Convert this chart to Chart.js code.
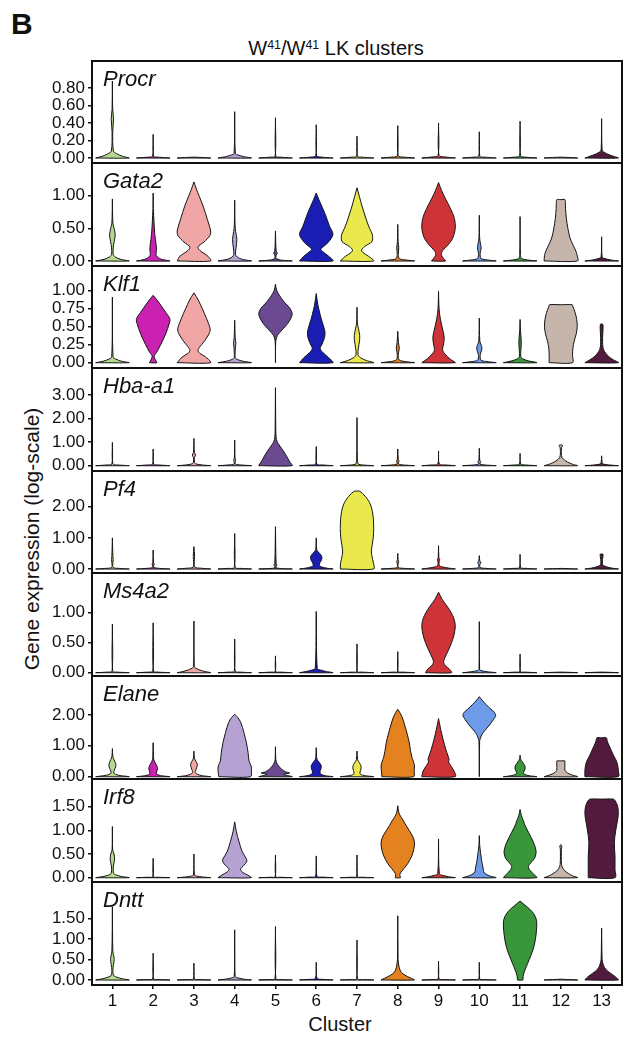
<!DOCTYPE html>
<html>
<head>
<meta charset="utf-8">
<title>W41/W41 LK clusters – violin plots</title>
<script src="https://cdn.jsdelivr.net/npm/chart.js@4.4.1/dist/chart.umd.min.js"></script>
<style>
  html, body { margin: 0; padding: 0; background: #fff; }
  #fig { position: relative; width: 627px; height: 1037px; overflow: hidden;
         font-family: "Liberation Sans", Arial, Helvetica, sans-serif; color: #111; }
  #fig canvas { position: absolute; left: 0; }
  .panel-letter { position: absolute; left: 11px; top: 9px; font-size: 30px; font-weight: bold; line-height: 1; }
  .fig-title { position: absolute; left: 336px; top: 38px; transform: translateX(-50%);
               font-size: 20px; line-height: 1; white-space: nowrap; }
  .fig-title .sup { font-size: 0.62em; position: relative; top: -0.5em; }
  .y-title { position: absolute; left: 31px; top: 539px; transform: translate(-50%, -50%) rotate(-90deg);
             font-size: 21px; line-height: 1; white-space: nowrap; }
  .x-title { position: absolute; left: 340px; top: 1024px; transform: translate(-50%, -50%);
             font-size: 20px; line-height: 1; white-space: nowrap; }
</style>
</head>
<body>
<div id="fig">
  <div class="panel-letter">B</div>
  <div class="fig-title">W<span class="sup">41</span>/W<span class="sup">41</span> LK clusters</div>
  <div class="y-title">Gene expression (log-scale)</div>
  <div class="x-title">Cluster</div>
</div>
<script>
// ---- data ---------------------------------------------------------------
const clusters = ['1','2','3','4','5','6','7','8','9','10','11','12','13'];
const clusterColors = ['#b7d98f','#cb21b1','#f0a6a4','#b5a2d3','#6b4a92','#1a1db3','#e9e84c',
                       '#e3821f','#cd3337','#6e9be9','#3a963b','#c6b5ab','#521b3d'];
const genes = ['Procr','Gata2','Klf1','Hba-a1','Pf4','Ms4a2','Elane','Irf8','Dntt'];
const geneTicks = [[0,0.2,0.4,0.6,0.8],[0,0.5,1],[0,0.25,0.5,0.75,1],[0,1,2,3],[0,1,2],
                   [0,0.5,1],[0,1,2],[0,0.5,1,1.5],[0,0.5,1,1.5]];
const yMin = [-0.057,-0.077,-0.074,-0.225,-0.128,-0.055,-0.075,-0.091,-0.122];
const yMax = [1.109,1.50,1.343,4.145,3.146,1.66,3.26,2.085,2.383];

// Violin outlines, one per cluster: [expression, relative half-width] pairs
// listed from the bottom of the violin up to its maximum.
const procr = [
  [[0,1],[0.02,0.6],[0.05,0.25],[0.08,0.06],[0.3,0.02],[0.45,0.07],[0.55,0.02],[0.88,0]],
  [[0,1],[0.01,0.3],[0.02,0.03],[0.27,0]],
  [[0,1],[0.006,0.5],[0.01,0]],
  [[0,1],[0.015,0.55],[0.035,0.2],[0.05,0.04],[0.53,0]],
  [[0,1],[0.01,0.3],[0.02,0.02],[0.46,0]],
  [[0,1],[0.01,0.35],[0.025,0.03],[0.38,0]],
  [[0,1],[0.01,0.3],[0.02,0.02],[0.25,0]],
  [[0,1],[0.01,0.4],[0.025,0.03],[0.37,0]],
  [[0,1],[0.012,0.4],[0.03,0.03],[0.4,0]],
  [[0,1],[0.01,0.35],[0.02,0.03],[0.3,0]],
  [[0,1],[0.01,0.35],[0.025,0.03],[0.42,0]],
  [[0,1],[0.006,0.5],[0.01,0]],
  [[0,1],[0.02,0.7],[0.045,0.35],[0.07,0.12],[0.09,0.03],[0.45,0]]
];
const gata2 = [
  [[0,1],[0.025,0.5],[0.06,0.18],[0.1,0.05],[0.2,0.05],[0.3,0.11],[0.4,0.17],[0.5,0.1],[0.58,0.03],[0.95,0]],
  [[0,1],[0.025,0.5],[0.06,0.25],[0.1,0.17],[0.18,0.2],[0.26,0.17],[0.4,0.1],[0.55,0.06],[0.7,0.03],[0.8,0.01],[1.04,0]],
  [[0,1],[0.07,0.85],[0.16,0.36],[0.215,0.24],[0.29,0.6],[0.39,0.96],[0.46,1],[0.64,0.8],[0.84,0.55],[0.99,0.32],[1.1,0.15],[1.21,0]],
  [[0,1],[0.025,0.45],[0.06,0.15],[0.1,0.05],[0.2,0.08],[0.33,0.13],[0.45,0.06],[0.55,0.02],[0.93,0]],
  [[0,1],[0.015,0.3],[0.04,0.04],[0.09,0.04],[0.12,0.11],[0.15,0.04],[0.46,0]],
  [[0,1],[0.07,0.76],[0.15,0.36],[0.185,0.28],[0.28,0.7],[0.405,1],[0.53,0.8],[0.74,0.5],[0.89,0.24],[0.99,0.08],[1.04,0]],
  [[0,1],[0.07,0.7],[0.13,0.35],[0.17,0.27],[0.22,0.45],[0.3,0.9],[0.4,0.92],[0.5,0.75],[0.6,0.6],[0.84,0.3],[0.99,0.14],[1.12,0]],
  [[0,1],[0.015,0.5],[0.035,0.1],[0.1,0.03],[0.2,0.06],[0.3,0.02],[0.56,0]],
  [[0,0.42],[0.04,0.3],[0.1,0.17],[0.16,0.25],[0.24,0.55],[0.35,0.85],[0.5,1],[0.65,0.95],[0.8,0.72],[0.95,0.42],[1.08,0.18],[1.2,0]],
  [[0,1],[0.015,0.5],[0.04,0.1],[0.12,0.05],[0.2,0.11],[0.28,0.06],[0.35,0.02],[0.7,0]],
  [[0,1],[0.015,0.45],[0.04,0.08],[0.1,0.02],[0.68,0]],
  [[0,1],[0.08,0.98],[0.15,0.9],[0.25,0.72],[0.35,0.55],[0.5,0.42],[0.65,0.33],[0.8,0.28],[0.9,0.27],[0.94,0.24],[0.94,0]],
  [[0,1],[0.015,0.55],[0.04,0.15],[0.06,0.03],[0.37,0]]
];
const klf1 = [
  [[0,1],[0.02,0.55],[0.05,0.2],[0.08,0.04],[0.91,0]],
  [[0,0.22],[0.04,0.13],[0.09,0.06],[0.14,0.2],[0.25,0.45],[0.4,0.75],[0.55,0.97],[0.61,1],[0.7,0.75],[0.8,0.45],[0.88,0.2],[0.935,0]],
  [[0,1],[0.08,0.7],[0.13,0.35],[0.17,0.24],[0.22,0.35],[0.29,0.6],[0.4,0.9],[0.47,0.97],[0.61,0.76],[0.75,0.5],[0.87,0.26],[0.97,0]],
  [[0,1],[0.02,0.5],[0.045,0.15],[0.07,0.03],[0.2,0.04],[0.27,0.07],[0.35,0.03],[0.59,0]],
  [[0,0],[0.3,0.02],[0.38,0.12],[0.45,0.38],[0.55,0.75],[0.67,1],[0.75,0.88],[0.85,0.5],[0.93,0.25],[1.0,0.08],[1.09,0]],
  [[0,1],[0.065,0.76],[0.14,0.4],[0.195,0.24],[0.26,0.35],[0.35,0.5],[0.43,0.52],[0.52,0.42],[0.61,0.3],[0.72,0.18],[0.8,0.1],[0.96,0]],
  [[0,1],[0.03,0.55],[0.07,0.2],[0.11,0.06],[0.2,0.08],[0.3,0.15],[0.38,0.16],[0.48,0.08],[0.55,0.02],[0.77,0]],
  [[0,1],[0.015,0.45],[0.04,0.08],[0.12,0.03],[0.2,0.09],[0.28,0.04],[0.435,0]],
  [[0,1],[0.04,0.75],[0.08,0.55],[0.13,0.35],[0.18,0.24],[0.26,0.3],[0.35,0.34],[0.45,0.26],[0.55,0.16],[0.68,0.06],[0.8,0.02],[0.99,0]],
  [[0,1],[0.015,0.45],[0.035,0.1],[0.1,0.05],[0.16,0.12],[0.2,0.16],[0.25,0.1],[0.3,0.03],[0.62,0]],
  [[0,1],[0.025,0.5],[0.055,0.15],[0.09,0.04],[0.25,0.07],[0.35,0.06],[0.45,0.02],[0.6,0]],
  [[0,0.7],[0.1,0.7],[0.2,0.72],[0.3,0.8],[0.4,0.92],[0.5,0.98],[0.6,0.95],[0.7,0.85],[0.78,0.72],[0.805,0.68],[0.805,0]],
  [[0,1],[0.04,0.7],[0.08,0.45],[0.13,0.25],[0.18,0.12],[0.25,0.06],[0.35,0.06],[0.45,0.08],[0.53,0.08],[0.54,0]]
];
const hbaA1 = [
  [[0,1],[0.03,0.35],[0.07,0.03],[0.99,0]],
  [[0,1],[0.03,0.35],[0.07,0.03],[0.71,0]],
  [[0,1],[0.03,0.5],[0.08,0.1],[0.15,0.03],[0.35,0.03],[0.45,0.1],[0.55,0.03],[1.16,0]],
  [[0,1],[0.03,0.4],[0.07,0.04],[0.2,0.04],[0.26,0.06],[0.33,0.02],[1.09,0]],
  [[0,1],[0.15,0.87],[0.31,0.74],[0.52,0.57],[0.74,0.36],[0.88,0.22],[1.02,0.1],[1.2,0.04],[1.5,0.02],[3.31,0]],
  [[0,1],[0.03,0.4],[0.07,0.03],[0.81,0]],
  [[0,1],[0.03,0.35],[0.07,0.05],[0.12,0.06],[0.2,0.02],[2.04,0]],
  [[0,1],[0.03,0.35],[0.07,0.04],[0.15,0.05],[0.2,0.08],[0.26,0.03],[0.71,0]],
  [[0,1],[0.03,0.45],[0.07,0.05],[0.62,0]],
  [[0,1],[0.03,0.35],[0.07,0.04],[0.12,0.05],[0.17,0.09],[0.22,0.03],[0.74,0]],
  [[0,1],[0.03,0.35],[0.07,0.04],[0.52,0]],
  [[0,1],[0.05,0.75],[0.12,0.5],[0.2,0.3],[0.28,0.15],[0.36,0.06],[0.5,0.03],[0.7,0.03],[0.78,0.05],[0.84,0.1],[0.88,0.08],[0.88,0]],
  [[0,1],[0.03,0.45],[0.07,0.1],[0.12,0.03],[0.42,0]]
];
const pf4 = [
  [[0,1],[0.02,0.4],[0.05,0.04],[0.2,0.03],[0.3,0.05],[0.4,0.03],[1.0,0]],
  [[0,1],[0.02,0.4],[0.05,0.04],[0.12,0.04],[0.16,0.07],[0.2,0.02],[0.61,0]],
  [[0,1],[0.025,0.45],[0.06,0.05],[0.3,0.03],[0.4,0.04],[0.72,0]],
  [[0,1],[0.02,0.4],[0.05,0.03],[1.14,0]],
  [[0,1],[0.015,0.35],[0.04,0.04],[0.09,0.04],[0.13,0.1],[0.17,0.04],[1.36,0]],
  [[0,1],[0.03,0.6],[0.07,0.3],[0.12,0.18],[0.2,0.22],[0.3,0.32],[0.38,0.34],[0.45,0.28],[0.55,0.12],[0.62,0.03],[1.0,0]],
  [[0,1],[0.2,0.98],[0.4,0.9],[0.55,0.86],[0.75,0.9],[1.0,0.97],[1.3,1],[1.6,0.98],[1.85,0.92],[2.05,0.82],[2.2,0.68],[2.33,0.5],[2.43,0.32],[2.5,0.15],[2.5,0]],
  [[0,1],[0.02,0.4],[0.05,0.03],[0.17,0.03],[0.24,0.06],[0.3,0.02],[0.5,0]],
  [[0,1],[0.03,0.6],[0.07,0.2],[0.12,0.04],[0.25,0.04],[0.3,0.07],[0.36,0.02],[0.75,0]],
  [[0,1],[0.02,0.4],[0.05,0.04],[0.15,0.04],[0.21,0.1],[0.26,0.03],[0.43,0]],
  [[0,1],[0.02,0.4],[0.05,0.04],[0.47,0]],
  [[0,1],[0.01,0.5],[0.02,0]],
  [[0,1],[0.03,0.6],[0.07,0.3],[0.11,0.12],[0.15,0.05],[0.3,0.05],[0.4,0.08],[0.48,0.08],[0.48,0]]
];
const ms4a2 = [
  [[0,1],[0.01,0.3],[0.025,0.02],[0.81,0]],
  [[0,1],[0.01,0.3],[0.025,0.02],[0.83,0]],
  [[0,1],[0.02,0.65],[0.05,0.3],[0.08,0.08],[0.1,0.02],[0.86,0]],
  [[0,1],[0.01,0.35],[0.025,0.03],[0.56,0]],
  [[0,1],[0.01,0.3],[0.02,0.02],[0.28,0]],
  [[0,1],[0.02,0.6],[0.045,0.25],[0.07,0.06],[1.02,0]],
  [[0,1],[0.01,0.3],[0.02,0.02],[0.48,0]],
  [[0,1],[0.01,0.3],[0.02,0.02],[0.35,0]],
  [[0,0.78],[0.06,0.65],[0.12,0.4],[0.18,0.3],[0.25,0.38],[0.38,0.6],[0.5,0.78],[0.62,0.92],[0.76,1],[0.85,0.97],[0.95,0.85],[1.05,0.65],[1.13,0.45],[1.22,0.22],[1.34,0]],
  [[0,1],[0.015,0.5],[0.035,0.1],[0.05,0.02],[0.85,0]],
  [[0,1],[0.01,0.3],[0.02,0.02],[0.31,0]],
  [[0,1],[0.006,0.5],[0.01,0]],
  [[0,1],[0.006,0.5],[0.01,0]]
];
const elane = [
  [[0,1],[0.03,0.55],[0.07,0.2],[0.12,0.08],[0.22,0.12],[0.32,0.2],[0.42,0.2],[0.55,0.1],[0.65,0.03],[0.91,0]],
  [[0,1],[0.03,0.5],[0.08,0.22],[0.15,0.2],[0.25,0.26],[0.35,0.22],[0.45,0.12],[0.55,0.04],[0.65,0.02],[1.1,0]],
  [[0,1],[0.03,0.5],[0.08,0.2],[0.13,0.08],[0.2,0.1],[0.3,0.17],[0.4,0.2],[0.5,0.12],[0.6,0.03],[0.83,0]],
  [[0,0.95],[0.2,1],[0.35,0.98],[0.5,0.86],[0.78,0.8],[1.1,0.7],[1.43,0.55],[1.75,0.37],[1.92,0.18],[2.02,0]],
  [[0,1],[0.04,0.7],[0.08,0.5],[0.12,0.85],[0.16,0.6],[0.25,0.35],[0.35,0.18],[0.45,0.07],[0.55,0.02],[0.97,0]],
  [[0,1],[0.03,0.55],[0.08,0.28],[0.15,0.22],[0.25,0.28],[0.35,0.3],[0.45,0.2],[0.55,0.06],[0.65,0.02],[0.94,0]],
  [[0,1],[0.03,0.5],[0.08,0.2],[0.15,0.18],[0.25,0.24],[0.35,0.24],[0.45,0.14],[0.55,0.04],[0.83,0]],
  [[0,0.95],[0.2,0.98],[0.35,1],[0.5,0.93],[0.62,0.85],[0.85,0.76],[1.1,0.69],[1.37,0.57],[1.64,0.43],[1.9,0.28],[2.08,0.12],[2.18,0]],
  [[0,1],[0.18,0.93],[0.37,0.71],[0.48,0.6],[0.56,0.63],[0.7,0.55],[0.89,0.43],[1.21,0.27],[1.53,0.13],[1.75,0.05],[1.88,0]],
  [[0,0],[1.15,0.02],[1.25,0.07],[1.37,0.16],[1.5,0.34],[1.64,0.56],[1.86,0.86],[1.99,0.98],[2.1,0.88],[2.18,0.7],[2.34,0.4],[2.48,0.16],[2.59,0]],
  [[0,1],[0.03,0.55],[0.08,0.25],[0.13,0.2],[0.22,0.28],[0.33,0.3],[0.43,0.2],[0.52,0.08],[0.6,0.02],[0.7,0]],
  [[0,1],[0.06,0.65],[0.12,0.4],[0.2,0.25],[0.3,0.24],[0.45,0.24],[0.51,0.24],[0.51,0]],
  [[0,1],[0.2,1],[0.4,0.95],[0.55,0.85],[0.7,0.7],[0.85,0.58],[1.0,0.45],[1.15,0.34],[1.26,0.28],[1.26,0]]
];
const irf8 = [
  [[0,1],[0.025,0.55],[0.06,0.2],[0.1,0.06],[0.25,0.06],[0.38,0.13],[0.5,0.1],[0.58,0.02],[1.08,0]],
  [[0,1],[0.01,0.3],[0.02,0.02],[0.41,0]],
  [[0,1],[0.015,0.5],[0.035,0.15],[0.055,0.03],[0.5,0]],
  [[0,1],[0.06,0.75],[0.12,0.45],[0.18,0.34],[0.26,0.55],[0.34,0.72],[0.4,0.7],[0.55,0.45],[0.76,0.26],[0.97,0.1],[1.18,0]],
  [[0,1],[0.01,0.3],[0.02,0.02],[0.48,0]],
  [[0,1],[0.012,0.4],[0.03,0.04],[0.46,0]],
  [[0,1],[0.01,0.35],[0.025,0.03],[0.48,0]],
  [[0,0.16],[0.06,0.12],[0.12,0.2],[0.2,0.38],[0.3,0.6],[0.46,0.84],[0.6,0.96],[0.75,1],[0.88,0.88],[1.0,0.68],[1.1,0.5],[1.2,0.34],[1.3,0.16],[1.38,0.06],[1.52,0]],
  [[0,1],[0.02,0.6],[0.05,0.25],[0.08,0.05],[0.82,0]],
  [[0,1],[0.04,0.6],[0.1,0.3],[0.16,0.24],[0.22,0.22],[0.32,0.16],[0.46,0.1],[0.6,0.05],[0.7,0.02],[0.89,0]],
  [[0,1],[0.08,0.8],[0.16,0.58],[0.24,0.5],[0.32,0.66],[0.42,0.88],[0.54,0.96],[0.65,0.9],[0.75,0.8],[0.96,0.5],[1.1,0.3],[1.2,0.2],[1.31,0.08],[1.44,0]],
  [[0,1],[0.04,0.7],[0.09,0.45],[0.14,0.25],[0.2,0.12],[0.28,0.04],[0.6,0.03],[0.67,0.06],[0.7,0]],
  [[0,0.8],[0.18,0.8],[0.46,0.8],[0.75,0.76],[1.03,0.86],[1.25,0.97],[1.38,1],[1.52,0.95],[1.62,0.82],[1.66,0.7],[1.66,0]]
];
const dntt = [
  [[0,1],[0.03,0.6],[0.07,0.25],[0.12,0.06],[0.3,0.04],[0.45,0.1],[0.55,0.1],[0.68,0.03],[1.78,0]],
  [[0,1],[0.01,0.35],[0.025,0.03],[0.65,0]],
  [[0,1],[0.01,0.35],[0.025,0.03],[0.41,0]],
  [[0,1],[0.02,0.55],[0.05,0.2],[0.08,0.03],[1.22,0]],
  [[0,1],[0.01,0.35],[0.025,0.03],[1.3,0]],
  [[0,1],[0.015,0.45],[0.04,0.05],[0.43,0]],
  [[0,1],[0.01,0.35],[0.025,0.03],[0.97,0]],
  [[0,1],[0.04,0.8],[0.08,0.6],[0.12,0.42],[0.18,0.22],[0.26,0.12],[0.36,0.06],[0.5,0.02],[1.56,0]],
  [[0,1],[0.01,0.35],[0.025,0.03],[0.46,0]],
  [[0,1],[0.01,0.35],[0.025,0.03],[0.43,0]],
  [[0,0.16],[0.1,0.18],[0.25,0.3],[0.4,0.45],[0.6,0.65],[0.8,0.82],[1.0,0.92],[1.2,0.98],[1.38,1],[1.5,0.95],[1.62,0.8],[1.72,0.58],[1.8,0.35],[1.87,0.15],[1.92,0]],
  [[0,1],[0.01,0.5],[0.02,0]],
  [[0,1],[0.05,0.9],[0.1,0.75],[0.16,0.55],[0.22,0.35],[0.3,0.18],[0.4,0.08],[0.5,0.03],[1.26,0]]
];
const geneProfiles = [procr, gata2, klf1, hbaA1, pf4, ms4a2, elane, irf8, dntt];

// ---- layout -------------------------------------------------------------
const FIG_W = 627, FIG_H = 1037;
const PANEL_EDGES = [61, 163, 266, 368, 471, 573, 676, 779, 882, 985];
const PLOT_LEFT = 92, PLOT_RIGHT = 622, EDGE_PAD = 3;
const HALF_WIDTH = 0.41;            // widest violin half-width, in cluster units
const FONT = "'Liberation Sans', Arial, Helvetica, sans-serif";

Chart.defaults.font.family = FONT;
Chart.defaults.color = '#111';

// closed outline: up the left side, down the right side, back to start
function violinOutline(profile, center) {
  const left = profile.map(([v, w]) => ({ x: center - w * HALF_WIDTH, y: v }));
  const right = profile.slice().reverse().map(([v, w]) => ({ x: center + w * HALF_WIDTH, y: v }));
  return left.concat(right, [left[0]]);
}

// frame around each panel plus the gene name in its top-left corner
const panelFrame = {
  id: 'panelFrame',
  afterDatasetsDraw(chart, args, opts) {
    const { ctx, chartArea: a } = chart;
    ctx.save();
    ctx.strokeStyle = '#111';
    ctx.lineWidth = 2;
    ctx.strokeRect(a.left, a.top, a.right - a.left, a.bottom - a.top);
    ctx.font = 'italic 22px ' + FONT;
    ctx.fillStyle = '#111';
    ctx.textAlign = 'left';
    ctx.textBaseline = 'alphabetic';
    ctx.fillText(opts.gene, a.left + 11, a.top + 25);
    ctx.restore();
  }
};

const fig = document.getElementById('fig');

genes.forEach((gene, g) => {
  const isLast = g === genes.length - 1;
  const top = PANEL_EDGES[g] - EDGE_PAD;
  const bottom = isLast ? FIG_H : PANEL_EDGES[g + 1] + EDGE_PAD;
  const canvas = document.createElement('canvas');
  canvas.width = FIG_W;
  canvas.height = bottom - top;
  canvas.style.top = top + 'px';
  canvas.style.width = FIG_W + 'px';
  canvas.style.height = (bottom - top) + 'px';
  fig.appendChild(canvas);

  const datasets = geneProfiles[g].map((profile, c) => ({
    label: gene + ' cluster ' + clusters[c],
    data: violinOutline(profile, c + 1),
    showLine: true,
    fill: 'shape',
    backgroundColor: clusterColors[c],
    borderColor: '#141414',
    borderWidth: 1,
    borderJoinStyle: 'round',
    pointRadius: 0,
    pointHoverRadius: 0,
    tension: 0.3
  }));

  new Chart(canvas, {
    type: 'scatter',
    data: { datasets },
    plugins: [panelFrame],
    options: {
      responsive: false,
      animation: false,
      devicePixelRatio: 1,
      events: [],
      layout: { padding: { left: 0, right: FIG_W - PLOT_RIGHT, top: EDGE_PAD, bottom: isLast ? 0 : EDGE_PAD } },
      plugins: {
        legend: { display: false },
        tooltip: { enabled: false },
        panelFrame: { gene }
      },
      scales: {
        x: {
          type: 'linear',
          min: 0.5,
          max: 13.5,
          display: isLast,
          afterBuildTicks: s => { s.ticks = clusters.map((c, i) => ({ value: i + 1 })); },
          ticks: { callback: v => clusters[v - 1], font: { size: 17 }, color: '#111', padding: 2, autoSkip: false, maxRotation: 0 },
          grid: { drawOnChartArea: false, drawTicks: true, tickLength: 4, color: '#111', lineWidth: 1.5 },
          border: { display: false },
          afterFit: s => {
            if (!isLast) return;
            s.height = FIG_H - PANEL_EDGES[9];
            s.paddingLeft = 0;
            s.paddingRight = 0;
          }
        },
        y: {
          type: 'linear',
          min: yMin[g],
          max: yMax[g],
          afterBuildTicks: s => { s.ticks = geneTicks[g].map(v => ({ value: v })); },
          ticks: { callback: v => v.toFixed(2), font: { size: 17 }, color: '#111', padding: 3, autoSkip: false },
          grid: { drawOnChartArea: false, drawTicks: true, tickLength: 4, color: '#111', lineWidth: 1.5 },
          border: { display: false },
          afterFit: s => { s.width = PLOT_LEFT; s.paddingTop = 0; s.paddingBottom = 0; }
        }
      }
    }
  });
});
</script>
</body>
</html>
